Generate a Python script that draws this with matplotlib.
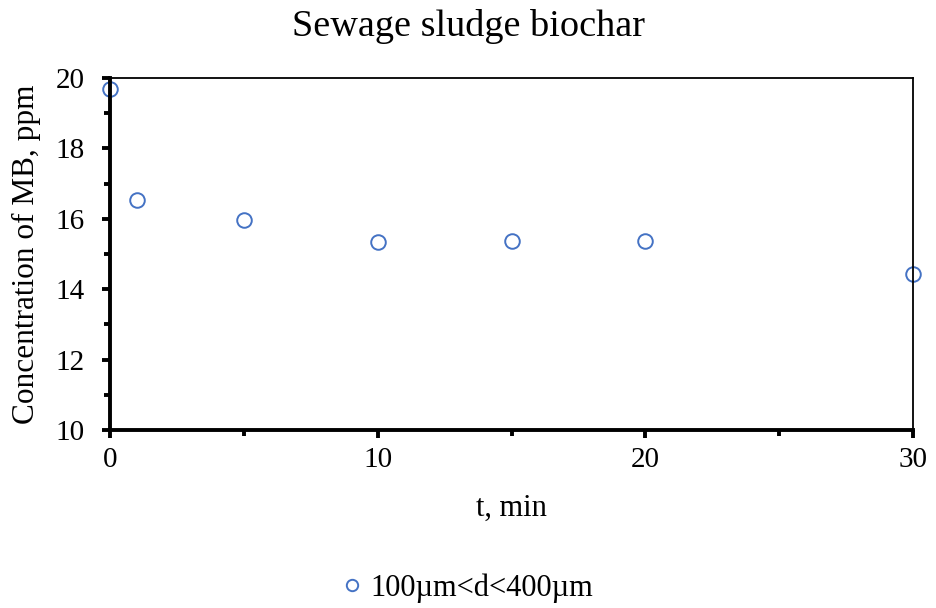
import matplotlib
matplotlib.use("Agg")
import matplotlib.pyplot as plt
from matplotlib.ticker import MultipleLocator

t_min = [0, 1, 5, 10, 15, 20, 30]
conc = [19.69, 16.53, 15.97, 15.35, 15.37, 15.38, 14.43]
series_label = "100\u00b5m<d<400\u00b5m"

plt.rcParams['font.family'] = ['Liberation Serif', 'DejaVu Serif']

fig = plt.figure(figsize=(9.36, 6.08), dpi=100)
ax = fig.add_axes([110/936, 1-430/608, (913-110)/936, (430-78)/608])

ax.plot(t_min, conc, linestyle='none', marker='o', markersize=10.5,
        markerfacecolor='none', markeredgecolor='#4472C4', markeredgewidth=1.4,
        label=series_label, clip_on=False)

ax.set_xlim(0, 30)
ax.set_ylim(10, 20)
ax.xaxis.set_major_locator(MultipleLocator(10))
ax.xaxis.set_minor_locator(MultipleLocator(5))
ax.yaxis.set_major_locator(MultipleLocator(2))
ax.yaxis.set_minor_locator(MultipleLocator(1))

ax.spines['left'].set_linewidth(2.8)
ax.spines['bottom'].set_linewidth(2.8)
ax.spines['top'].set_linewidth(1.3)
ax.spines['right'].set_linewidth(1.3)

ax.tick_params(axis='both', which='major', direction='out', length=5.5, width=2.8,
               labelsize=21)
ax.tick_params(axis='both', which='minor', direction='out', length=4, width=2.8)
ax.tick_params(axis='y', which='major', pad=13)
ax.tick_params(axis='x', which='major', pad=7)
ax.tick_params(axis='x', which='both', top=False)
ax.tick_params(axis='y', which='both', right=False)

ax.set_xlabel('t, min', fontsize=22, labelpad=15)
ax.set_ylabel('Concentration of MB, ppm', fontsize=22.5, labelpad=10)
fig.text(0.5, 1-36/608, 'Sewage sludge biochar', ha='center', va='baseline', fontsize=27.5)

fig.legend(loc='center', bbox_to_anchor=(0.5, 1-588/608), frameon=False,
           fontsize=22, handletextpad=0.3, handlelength=0.6, markerscale=0.78)

fig.savefig('out.png', dpi=100)
